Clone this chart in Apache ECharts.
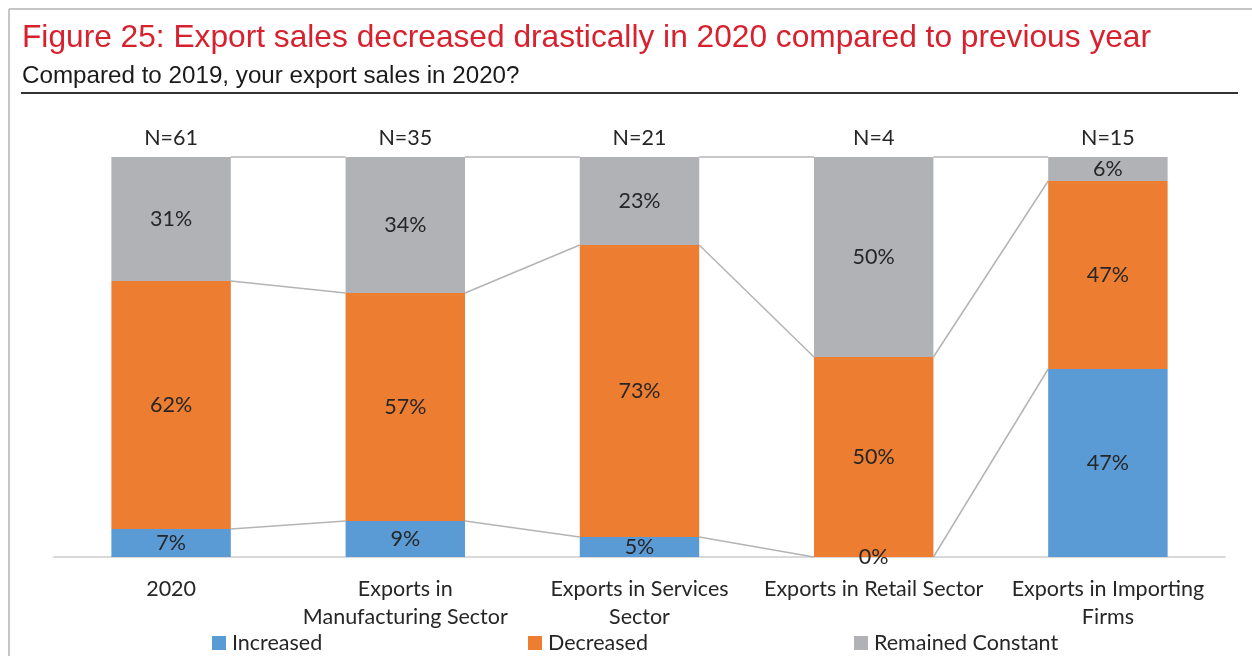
<!DOCTYPE html>
<html>
<head>
<meta charset="utf-8">
<script src="https://cdn.jsdelivr.net/npm/echarts@6/dist/echarts.min.js"></script>
<style>
  html, body { margin: 0; padding: 0; background: #fff; }
  #chart { width: 1252px; height: 656px; }
</style>
</head>
<body>
<div id="chart"></div>
<script>
// Survey groups along the x axis
const categories = [
  '2020',
  'Exports in\nManufacturing Sector',
  'Exports in Services\nSector',
  'Exports in Retail Sector',
  'Exports in Importing\nFirms'
];
// Sample size shown above each column
const sampleSizes = ['N=61', 'N=35', 'N=21', 'N=4', 'N=15'];
// Share of respondents (%)
const increased = [7, 9, 5, 0, 47];
const decreased = [62, 57, 73, 50, 47];
const remainedConstant = [31, 34, 23, 50, 6];

const seriesNames = ['Increased', 'Decreased', 'Remained Constant'];
const colors = ['#5b9bd5', '#ed7d31', '#b1b2b5'];
const labelFont = 'Lato, "Open Sans", sans-serif';
const labelSize = 21.5;
const BAR_RATIO = 0.51;

const chart = echarts.init(document.getElementById('chart'), null, { renderer: 'canvas' });

const stacks = [increased, decreased, remainedConstant];

function barSeries(idx) {
  return {
    name: seriesNames[idx],
    type: 'bar',
    stack: 'share',
    barWidth: (BAR_RATIO * 100) + '%',
    itemStyle: { color: colors[idx] },
    label: {
      show: true,
      position: 'inside',
      formatter: p => p.value + '%',
      fontFamily: labelFont,
      fontSize: labelSize,
      color: '#262626'
    },
    data: stacks[idx]
  };
}

// Connector lines joining the top of each stacked segment between neighbouring columns
const connectorSeries = {
  type: 'custom',
  silent: true,
  z: 1,
  data: categories.slice(0, -1).map((c, i) => i),
  renderItem: function (params, api) {
    const i = api.value(0);
    const bw = api.size([1, 0])[0] * BAR_RATIO;
    const children = [];
    let cumA = 0, cumB = 0;
    for (let s = 0; s < stacks.length; s++) {
      cumA += stacks[s][i];
      cumB += stacks[s][i + 1];
      const pA = api.coord([i, Math.min(cumA, 100)]);
      const pB = api.coord([i + 1, Math.min(cumB, 100)]);
      children.push({
        type: 'line',
        shape: { x1: pA[0] + bw / 2, y1: pA[1], x2: pB[0] - bw / 2, y2: pB[1] },
        style: { stroke: '#b4b4b4', lineWidth: 1.5 }
      });
    }
    return { type: 'group', children: children };
  }
};

function legendAt(left, idx) {
  return {
    data: [seriesNames[idx]],
    left: left,
    top: 632,
    padding: 0,
    icon: 'rect',
    itemWidth: 14,
    itemHeight: 14,
    itemGap: 6,
    textStyle: { fontFamily: labelFont, fontSize: labelSize, color: '#262626', padding: [0, 0, 0, 1] },
    selectedMode: false
  };
}

const option = {
  animation: false,
  backgroundColor: '#ffffff',
  title: [
    {
      text: 'Figure 25: Export sales decreased drastically in 2020 compared to previous year',
      left: 17,
      top: 17,
      textStyle: { fontFamily: '"Liberation Sans", Arial, sans-serif', fontSize: 31.7, fontWeight: 'normal', color: '#d7212e' }
    },
    {
      text: 'Compared to 2019, your export sales in 2020?',
      left: 17,
      top: 59,
      textStyle: { fontFamily: '"Liberation Sans", Arial, sans-serif', fontSize: 24.2, fontWeight: 'normal', color: '#1a1a1a' }
    }
  ],
  graphic: [
    // outer frame edges
    { type: 'line', shape: { x1: 9, y1: 9, x2: 1252, y2: 9 }, style: { stroke: '#c6c6c6', lineWidth: 2 } },
    { type: 'line', shape: { x1: 9, y1: 9, x2: 9, y2: 656 }, style: { stroke: '#c6c6c6', lineWidth: 2 } },
    // rule under the subtitle
    { type: 'line', shape: { x1: 21, y1: 93, x2: 1238, y2: 93 }, style: { stroke: '#333333', lineWidth: 2 } }
  ],
  legend: [legendAt(212, 0), legendAt(528, 1), legendAt(854, 2)],
  grid: { left: 54, right: 27, top: 157, bottom: 99 },
  xAxis: [
    {
      type: 'category',
      data: categories,
      position: 'bottom',
      axisLine: { lineStyle: { color: '#d9d9d9', width: 2 } },
      axisTick: { show: false },
      axisLabel: {
        fontFamily: labelFont, fontSize: labelSize, color: '#262626',
        margin: 18, lineHeight: 28, interval: 0
      }
    },
    {
      type: 'category',
      data: sampleSizes,
      position: 'top',
      axisLine: { show: false },
      axisTick: { show: false },
      axisLabel: { fontFamily: labelFont, fontSize: labelSize, color: '#262626', margin: 8, interval: 0 }
    }
  ],
  yAxis: {
    type: 'value',
    min: 0,
    max: 100,
    show: false,
    splitLine: { show: false }
  },
  series: [barSeries(0), barSeries(1), barSeries(2), connectorSeries]
};

chart.setOption(option);
</script>
</body>
</html>
